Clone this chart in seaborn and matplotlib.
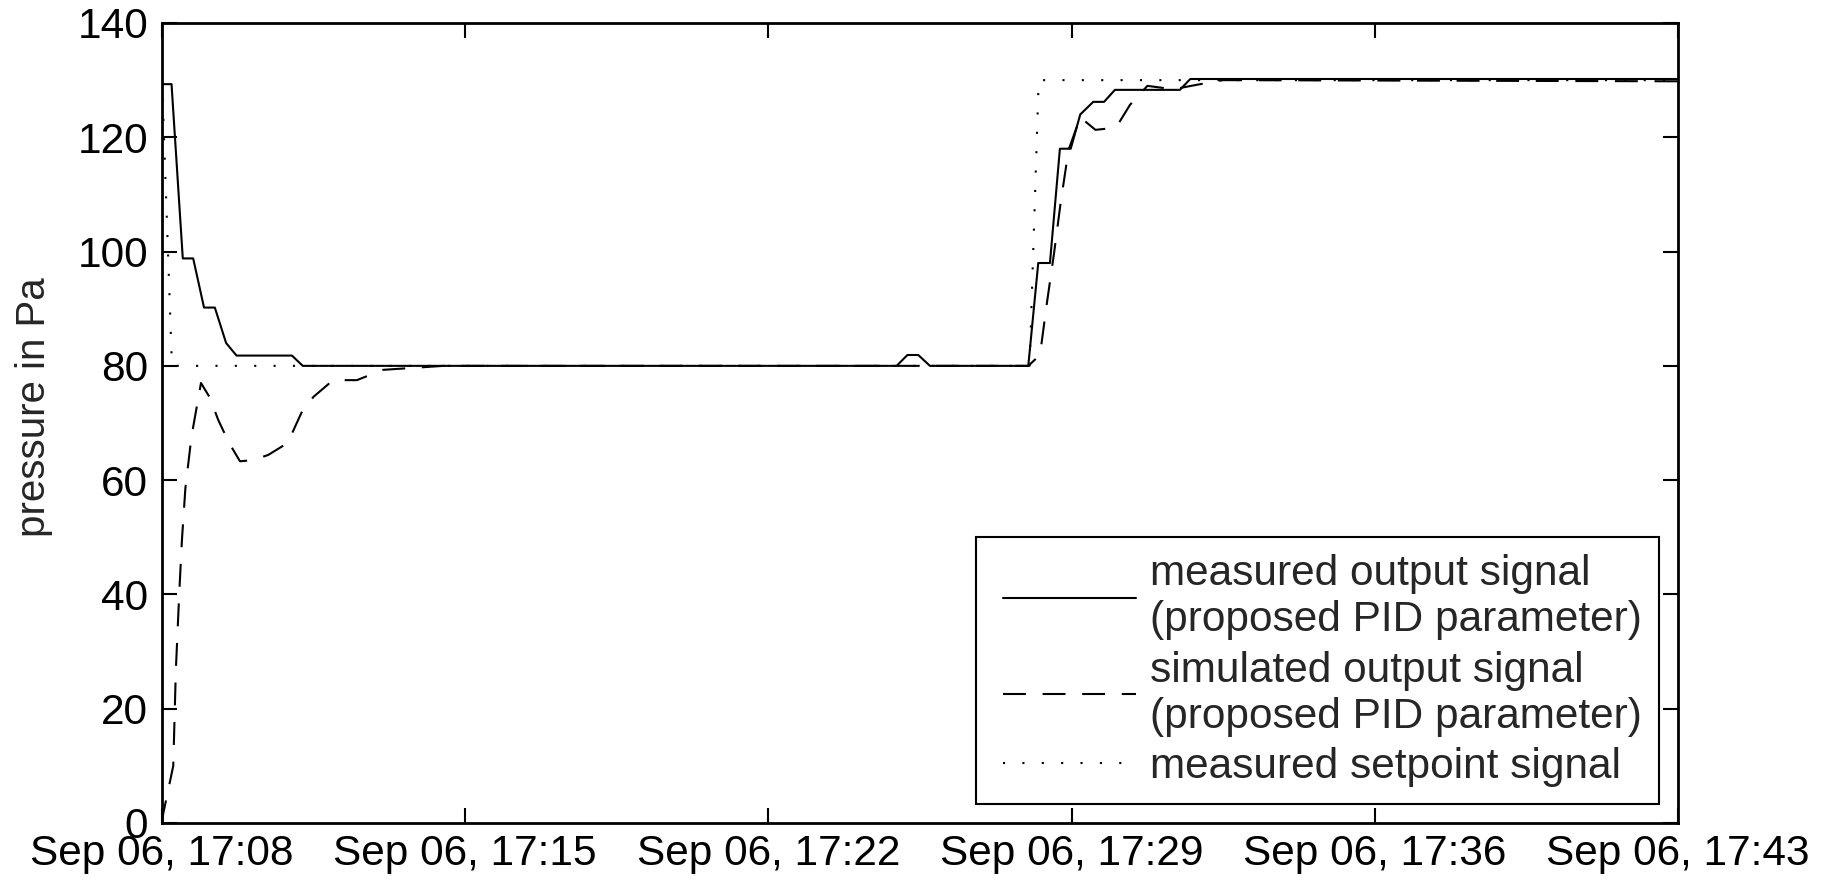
import numpy as np
import pandas as pd
import matplotlib
matplotlib.use("Agg")
import matplotlib.pyplot as plt
import matplotlib.dates as mdates
from matplotlib.legend_handler import HandlerLine2D
import seaborn as sns

# ---- data (minutes after Sep 06, 17:08) ----
measured_t = [0, 0.22, 0.48, 0.72, 0.97, 1.22, 1.48, 1.72, 3.0, 3.25, 16.96, 17.21, 17.46, 17.73,
              20.0, 20.23, 20.5, 20.73, 20.98, 21.2, 21.5, 21.75, 22.0, 23.5, 23.74, 35]
measured_v = [129.3, 129.3, 98.8, 98.8, 90.2, 90.2, 84.0, 81.8, 81.8, 80.0, 80.0, 81.9, 81.9, 80.0,
              80.0, 98.0, 98.0, 118.0, 118.0, 124.0, 126.2, 126.2, 128.3, 128.3, 130.2, 130.2]

sim_t = [0, 0.03, 0.26, 0.32, 0.4, 0.46, 0.54, 0.68, 0.9, 1.1, 1.3, 1.55, 1.8, 2.1, 2.45, 2.9,
         3.25, 3.5, 3.95, 4.5, 5.1, 5.7, 6.5, 20.0, 20.27, 20.43, 20.6, 20.75, 20.93, 21.2, 21.55,
         21.8, 22.05, 22.35, 22.75, 23.35, 23.9, 24.5, 35]
sim_v = [0, 1.7, 10.0, 26.8, 40.5, 49.5, 58.6, 67.6, 77.0, 74.5, 70.5, 66.5, 63.3, 63.5, 64.4, 66.5,
         72.3, 74.6, 77.5, 77.5, 79.3, 79.6, 80.0, 80.0, 81.9, 91.0, 100.0, 108.7, 117.8, 123.5, 121.3,
         121.5, 122.0, 125.7, 129.0, 128.4, 129.2, 130.0, 129.8]

sp_t = [0, 0.23, 20.03, 20.24, 35]
sp_v = [130, 80, 80, 130, 130]

labels = ["measured output signal\n(proposed PID parameter)",
          "simulated output signal\n(proposed PID parameter)",
          "measured setpoint signal"]
tick_minutes = [0, 7, 14, 21, 28, 35]
y_ticks = [0, 20, 40, 60, 80, 100, 120, 140]

t0 = pd.Timestamp("2013-09-06 17:08:00")
def to_time(mins):
    return [t0 + pd.Timedelta(minutes=m) for m in mins]

df_meas = pd.DataFrame({"time": to_time(measured_t), "value": measured_v})
df_sim = pd.DataFrame({"time": to_time(sim_t), "value": sim_v})
df_sp = pd.DataFrame({"time": to_time(sp_t), "value": sp_v})

sns.set_theme(style="white")
plt.rcParams["font.family"] = ["Liberation Sans", "DejaVu Sans"]

fs = 30.5
fig = plt.figure(figsize=(18.32, 8.85), dpi=100)
ax = fig.add_axes([162/1832, 1 - 823/885, (1678-162)/1832, (823-23)/885])

sns.lineplot(data=df_sp, x="time", y="value", ax=ax, color="black", linewidth=1.5,
             estimator=None, label=labels[2])
l_sp = ax.lines[-1]
l_sp.set_dashes((1, 8.3))
sns.lineplot(data=df_meas, x="time", y="value", ax=ax, color="black", linewidth=1.5,
             estimator=None, label=labels[0])
l_meas = ax.lines[-1]
sns.lineplot(data=df_sim, x="time", y="value", ax=ax, color="black", linewidth=1.5,
             estimator=None, label=labels[1])
l_sim = ax.lines[-1]
l_sim.set_dashes((11, 8))

ax.set_xlim(t0, t0 + pd.Timedelta(minutes=35))
ax.set_ylim(0, 140)
ax.set_xticks(to_time(tick_minutes))
ax.xaxis.set_major_formatter(mdates.DateFormatter("%b %d, %H:%M"))
ax.set_yticks(y_ticks)
ax.set_xlabel("")
ax.set_ylabel("pressure in Pa", fontsize=29)
ax.yaxis.set_label_coords(-0.072, 0.52)

for s in ax.spines.values():
    s.set_visible(True)
    s.set_color("black")
    s.set_linewidth(2)
ax.tick_params(axis="both", which="major", direction="in", length=11, width=1.5,
               colors="black", labelsize=fs, top=True, right=True, left=True, bottom=True)
ax.tick_params(axis="x", pad=8)
ax.tick_params(axis="y", pad=10)

hpad = HandlerLine2D(xpad=0.24)
leg = ax.legend([l_meas, l_sim, l_sp], labels, loc="lower right", fontsize=fs,
                frameon=True, fancybox=False, framealpha=1, edgecolor="black",
                handlelength=3.38, handletextpad=0.33, labelspacing=0.24,
                borderpad=0.4, borderaxespad=0.45,
                handler_map={l_meas: hpad, l_sim: hpad, l_sp: hpad})
leg.get_frame().set_linewidth(1.5)
for t in leg.get_texts():
    t.set_linespacing(1.2)

fig.savefig("out.png", dpi=100)
